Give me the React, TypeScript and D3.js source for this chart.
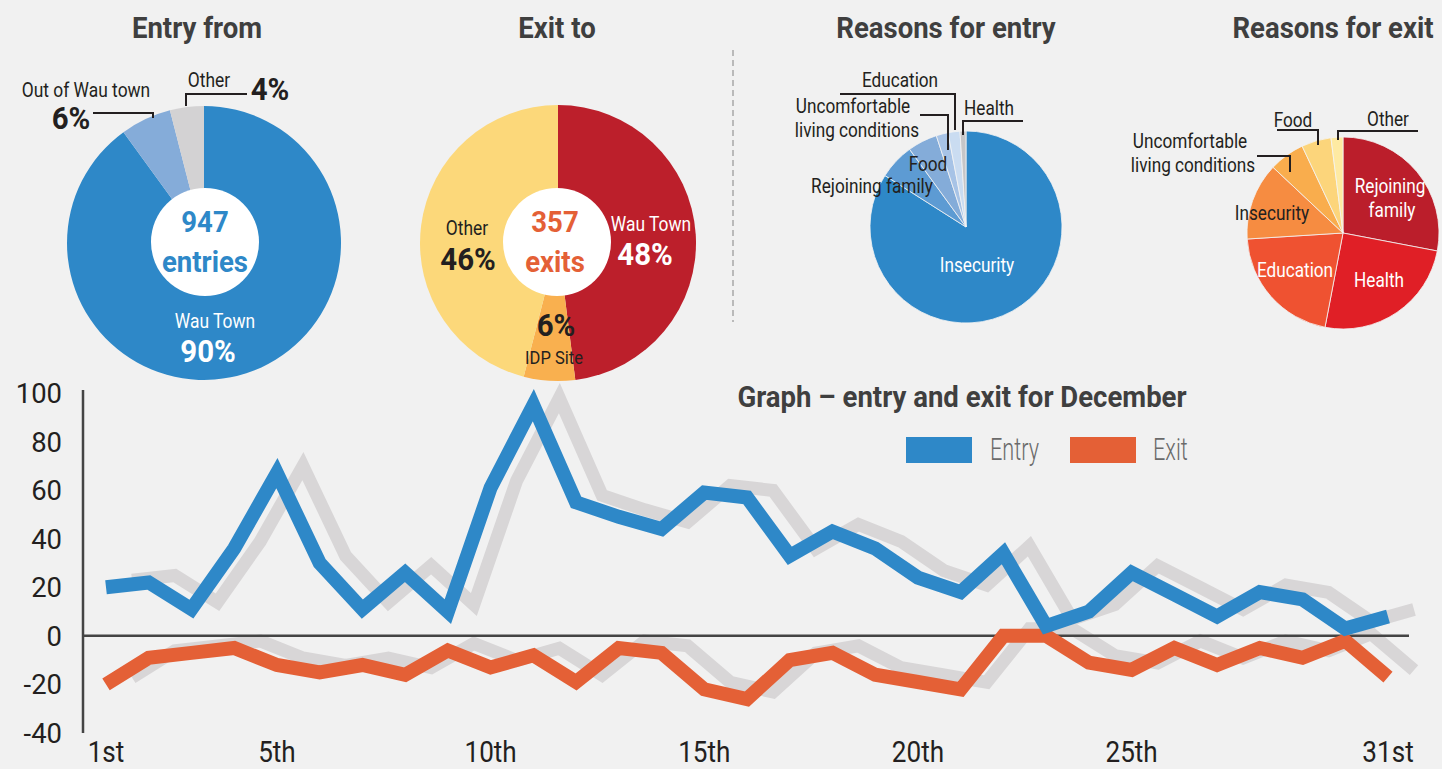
import { useEffect, useRef } from 'react';
import * as d3 from 'd3';

// --- Data ---
const entryFromLabels = ['Wau Town', 'Out of Wau town', 'Other'];
const entryFromValues = [90, 6, 4];

const exitToLabels = ['Wau Town', 'IDP Site', 'Other'];
const exitToValues = [48, 6, 46];

const entryReasonLabels = ['Insecurity', 'Rejoining family', 'Food', 'Uncomfortable living conditions', 'Education', 'Health'];
const entryReasonValues = [84, 6, 5, 2, 2, 1];

const exitReasonLabels = ['Rejoining family', 'Health', 'Education', 'Insecurity', 'Uncomfortable living conditions', 'Food', 'Other'];
const exitReasonValues = [28, 25, 21, 13, 6, 5, 2];

// daily counts for December (exit drawn negative)
const entryValues = [20, 22, 11, 36, 67, 30, 11, 26, 10, 61, 95, 55, 49, 44, 59, 57, 33, 43, 36, 24, 18, 34, 4, 10, 26, 17, 8, 18, 15, 3, 8];
const exitValues = [-20, -9, -7, -5, -12, -15, -12, -16, -6, -13, -8, -19, -5, -7, -22, -26, -10, -7, -16, -19, -22, 0, 0, -11, -14, -5, -12, -5, -9, -2, -17];

const xTickDays = [1, 5, 10, 15, 20, 25, 31];
const xTickLabels = ['1st', '5th', '10th', '15th', '20th', '25th', '31st'];
const yTicks = [100, 80, 60, 40, 20, 0, -20, -40];

const W = 1442;
const H = 769;

const bg = '#f1f1f1';
const blue = '#2e88c8';
const orange = '#e46036';
const dark = '#231f20';
const titleColor = '#3f3f3f';
const shadow = '#d8d6d7';

export default function App() {
    const svgRef = useRef<SVGSVGElement>(null);

    useEffect(() => {
        if (!svgRef.current) return;
        const svg = d3.select(svgRef.current);
        svg.selectAll('*').remove();

        const font = 'Roboto, sans-serif';

        // condensed look: squeeze Roboto horizontally
        const txt = (x: number, y: number, s: string, size: number, opts: any = {}) => {
            const sx = opts.sx ?? 0.87;
            svg.append('text')
                .attr('transform', `translate(${x},${y}) scale(${sx},1)`)
                .attr('text-anchor', opts.anchor ?? 'middle')
                .attr('font-family', font)
                .attr('font-size', size)
                .attr('font-weight', opts.weight ?? 400)
                .attr('fill', opts.fill ?? dark)
                .text(s);
        };
        const bold = (x: number, y: number, s: string, size: number, fill: string = dark) =>
            txt(x, y, s, size, { weight: 700, fill, sx: 0.95 });

        const leader = (pts: [number, number][]) => {
            svg.append('path')
                .attr('d', d3.line()(pts))
                .attr('fill', 'none')
                .attr('stroke', dark)
                .attr('stroke-width', 2);
        };

        svg.append('rect').attr('width', W).attr('height', H).attr('fill', bg);

        // --- Titles ---
        bold(197, 38, 'Entry from', 29, titleColor);
        bold(557, 38, 'Exit to', 29, titleColor);
        bold(946, 38, 'Reasons for entry', 29, titleColor);
        bold(1333, 38, 'Reasons for exit', 29, titleColor);

        // dashed separator
        svg.append('line')
            .attr('x1', 733).attr('x2', 733)
            .attr('y1', 50).attr('y2', 322)
            .attr('stroke', '#a8a8a8')
            .attr('stroke-width', 1.5)
            .attr('stroke-dasharray', '6,4');

        const pie = d3.pie<number>().sort(null).value(d => d);

        const drawPie = (cx: number, cy: number, r: number, values: number[], colors: string[], sep: boolean) => {
            const arc = d3.arc<d3.PieArcDatum<number>>().innerRadius(0).outerRadius(r);
            const g = svg.append('g').attr('transform', `translate(${cx},${cy})`);
            g.selectAll('path')
                .data(pie(values))
                .enter()
                .append('path')
                .attr('d', arc)
                .attr('fill', (_, i) => colors[i])
                .attr('stroke', sep ? '#f4f4f4' : 'none')
                .attr('stroke-width', 0.8);
        };

        // --- Entry from ---
        drawPie(204, 243, 137, entryFromValues, [blue, '#85acd9', '#d3d2d3'], false);
        svg.append('circle').attr('cx', 205).attr('cy', 242).attr('r', 54).attr('fill', '#fff');
        bold(205, 232, '947', 29, blue);
        bold(205, 272, 'entries', 29, blue);
        txt(215, 328, entryFromLabels[0], 20, { fill: '#fff' });
        bold(208, 362, entryFromValues[0] + '%', 31, '#fff');
        txt(86, 97, entryFromLabels[1], 20);
        bold(71, 129, entryFromValues[1] + '%', 31);
        leader([[93, 113], [153, 113], [153, 118]]);
        txt(209, 87, entryFromLabels[2], 20);
        bold(270, 100, entryFromValues[2] + '%', 31);
        leader([[186, 106], [186, 94], [247, 94]]);

        // --- Exit to ---
        drawPie(558, 243, 138, exitToValues, ['#bc1f2b', '#f9b04f', '#fcd87a'], false);
        svg.append('circle').attr('cx', 557).attr('cy', 242).attr('r', 54).attr('fill', '#fff');
        bold(555, 232, '357', 29, orange);
        bold(555, 272, 'exits', 29, orange);
        txt(651, 231, exitToLabels[0], 20, { fill: '#fff' });
        bold(645, 265, exitToValues[0] + '%', 31, '#fff');
        txt(467, 235, exitToLabels[2], 20);
        bold(468, 270, exitToValues[2] + '%', 31);
        bold(556, 336, exitToValues[1] + '%', 31);
        txt(554, 364, exitToLabels[1], 19);

        // --- Reasons for entry ---
        drawPie(966, 227, 96, entryReasonValues,
            [blue, '#5d9bd3', '#84acd9', '#a7c3e6', '#cadcf1', '#c6c6c8'], true);
        const rs = { sx: 0.86 };
        txt(977, 272, entryReasonLabels[0], 20, { ...rs, fill: '#fff' });
        txt(872, 193, entryReasonLabels[1], 20, rs);
        txt(928, 171, entryReasonLabels[2], 20, rs);
        txt(853, 113, 'Uncomfortable', 20, rs);
        txt(857, 137, 'living conditions', 20, rs);
        txt(900, 87, entryReasonLabels[4], 20, rs);
        txt(989, 115, entryReasonLabels[5], 20, rs);
        leader([[840, 94], [955, 94], [955, 130]]);
        leader([[920, 115], [948, 115], [948, 150]]);
        leader([[963, 135], [963, 121], [1023, 121]]);

        // --- Reasons for exit ---
        drawPie(1343, 233, 96, exitReasonValues,
            ['#bb1e2b', '#e01f26', '#ef5231', '#f68c41', '#f9ad4d', '#fcd57b', '#feeaa2'], true);
        txt(1390, 193, 'Rejoining', 20, { ...rs, fill: '#fff' });
        txt(1392, 217, 'family', 20, { ...rs, fill: '#fff' });
        txt(1379, 287, exitReasonLabels[1], 20, { ...rs, fill: '#fff' });
        txt(1295, 277, exitReasonLabels[2], 20, { ...rs, fill: '#fff' });
        txt(1272, 220, exitReasonLabels[3], 20, rs);
        txt(1190, 148, 'Uncomfortable', 20, rs);
        txt(1193, 172, 'living conditions', 20, rs);
        txt(1293, 127, exitReasonLabels[5], 20, rs);
        txt(1388, 126, exitReasonLabels[6], 20, rs);
        leader([[1257, 156], [1290, 156], [1290, 172]]);
        leader([[1277, 130], [1318, 130], [1318, 145]]);
        leader([[1338, 140], [1338, 131], [1418, 131]]);

        // --- Line chart ---
        const xScale = d3.scaleLinear().domain([1, 31]).range([106, 1388]);
        const yScale = d3.scaleLinear().domain([-40, 100]).range([733, 393]);

        const line = d3.line<number>()
            .x((_, i) => xScale(i + 1))
            .y(d => yScale(d));

        // grey shadow copies behind
        const shadowG = svg.append('g').attr('transform', 'translate(26,-7)');
        [entryValues, exitValues].forEach(vals => {
            shadowG.append('path')
                .attr('d', line(vals))
                .attr('fill', 'none')
                .attr('stroke', shadow)
                .attr('stroke-width', 13)
                .attr('stroke-linejoin', 'miter');
        });

        // axes
        svg.append('line')
            .attr('x1', 83).attr('x2', 83)
            .attr('y1', yScale(100) - 3).attr('y2', yScale(-40))
            .attr('stroke', '#444').attr('stroke-width', 2.5);
        svg.append('line')
            .attr('x1', 83).attr('x2', 1409)
            .attr('y1', yScale(0)).attr('y2', yScale(0))
            .attr('stroke', '#444').attr('stroke-width', 2.5);

        yTicks.forEach(t => {
            txt(62, yScale(t) + 10, String(t), 28, { anchor: 'end', sx: 0.98 });
        });
        xTickDays.forEach((d, i) => {
            txt(xScale(d), 762, xTickLabels[i], 29, { sx: 0.9 });
        });

        // series
        svg.append('path')
            .attr('d', line(exitValues))
            .attr('fill', 'none')
            .attr('stroke', orange)
            .attr('stroke-width', 14)
            .attr('stroke-linejoin', 'miter');
        svg.append('path')
            .attr('d', line(entryValues))
            .attr('fill', 'none')
            .attr('stroke', blue)
            .attr('stroke-width', 14)
            .attr('stroke-linejoin', 'miter');

        // title + legend
        bold(962, 407, 'Graph – entry and exit for December', 29, titleColor);
        svg.append('rect').attr('x', 906).attr('y', 437).attr('width', 66).attr('height', 26).attr('fill', blue);
        txt(990, 460, 'Entry', 31, { anchor: 'start', weight: 300, fill: '#6a6a6a', sx: 0.7 });
        svg.append('rect').attr('x', 1070).attr('y', 437).attr('width', 66).attr('height', 26).attr('fill', orange);
        txt(1153, 460, 'Exit', 31, { anchor: 'start', weight: 300, fill: '#6a6a6a', sx: 0.7 });
    }, []);

    return (
        <svg
            ref={svgRef}
            width={W}
            height={H}
            style={{ position: 'absolute', left: 0, top: 0, display: 'block' }}
        />
    );
}
